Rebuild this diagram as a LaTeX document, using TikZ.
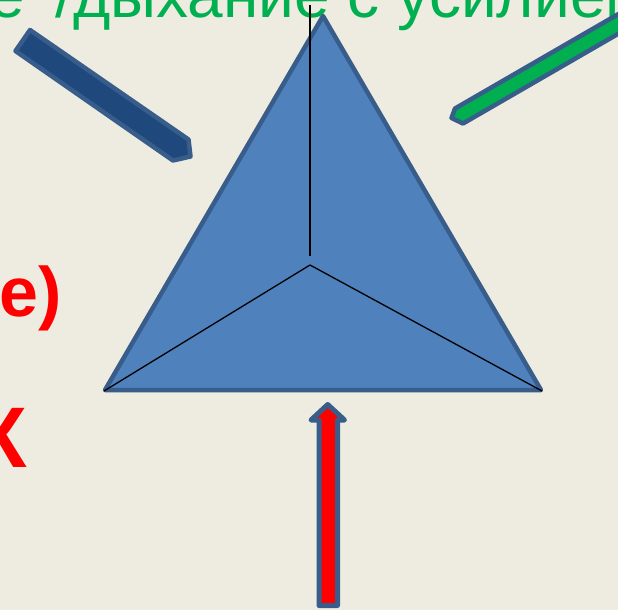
\documentclass[tikz,border=0pt]{standalone}
\usepackage{fontspec}
\setmainfont{Liberation Sans}
\usetikzlibrary{positioning}
\definecolor{slidebg}{HTML}{EEECE1}
\definecolor{faceblue}{HTML}{4F81BD}
\definecolor{edgeblue}{HTML}{385D8A}
\definecolor{darkblue}{HTML}{1F497D}
\definecolor{grassgreen}{HTML}{00B050}
\tikzset{
  outline/.style={draw=edgeblue, line width=4.5pt, line join=round},
  pyramid/.style={outline, fill=faceblue},
  bluepointer/.style={outline, fill=darkblue},
  greenpointer/.style={outline, fill=grassgreen},
  redpointer/.style={outline, line width=5pt, fill=red},
  spoke/.style={black, line width=1.3pt},
  greentext/.style={text=grassgreen, font=\fontsize{64}{70}\selectfont, inner sep=0pt},
  redtext/.style={text=red, font=\bfseries\fontsize{70}{76}\selectfont, inner sep=0pt},
  bigred/.style={text=red, font=\bfseries\fontsize{86}{92}\selectfont, inner sep=0pt}
}
\begin{document}
\begin{tikzpicture}[x=1pt, y=-1pt]
  \useasboundingbox (0,0) rectangle (618,610);
  \clip (0,0) rectangle (618,610);
  \fill[slidebg] (0,0) rectangle (618,610);

  \node[greentext, anchor=base west] (breath) at (-11,18) {е\hspace{13pt} /дыхание с усилием};
  \node[redtext, anchor=base east] (tail) at (62,316) {ие)};
  \node[bigred, anchor=base east] (letter) at (27,467) {К};

  % pyramid
  \coordinate (apex) at (323,16);
  \coordinate (lcorner) at (105,390);
  \coordinate (rcorner) at (541,390);
  \coordinate (hub) at (310,265);
  \coordinate (stem) at (310,256);
  \coordinate (stemtop) at (310,5);
  \filldraw[pyramid] (apex) -- (rcorner) -- (lcorner) -- cycle;
  \draw[spoke] (stemtop) -- (stem);
  \draw[spoke] (hub) -- (104,391);
  \draw[spoke] (hub) -- (542,391);

  % pointers
  \filldraw[bluepointer] (30,30) -- (188.5,139.5) -- (190.5,156.5) -- (173,160.5) -- (15.5,51) -- cycle;
  \filldraw[greenpointer] (455,108.5) -- (451.5,118) -- (463,123.5) -- (636,23.5) -- (628,8.5) -- cycle;
  \filldraw[redpointer] (327.7,404.5) -- (344.5,420) -- (337.5,420) -- (337.5,605.5)
    -- (319,605.5) -- (319,420) -- (311,420) -- cycle;
\end{tikzpicture}
\end{document}
